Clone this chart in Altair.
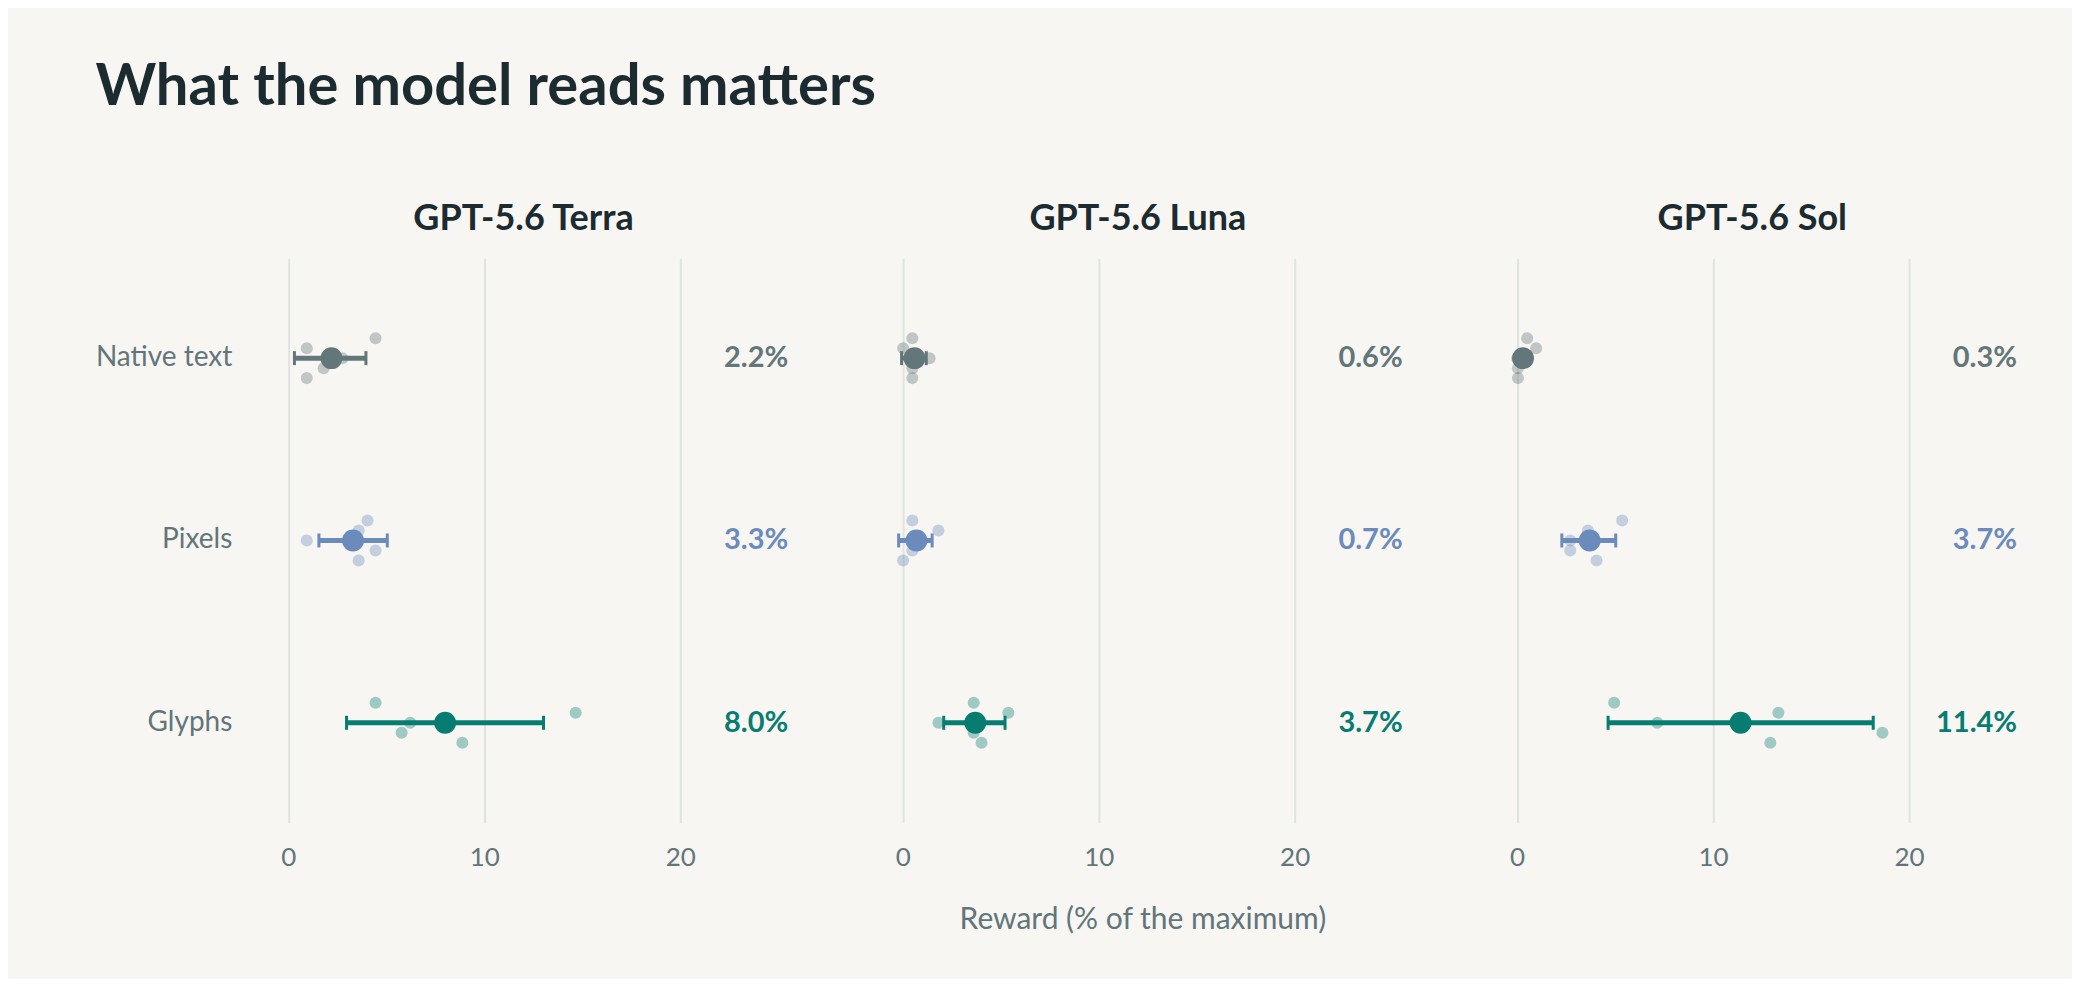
import pandas as pd
import altair as alt

models = ["GPT-5.6 Terra", "GPT-5.6 Luna", "GPT-5.6 Sol"]
inputs = ["Native text", "Pixels", "Glyphs"]
colors = ["#63767a", "#6a8bbc", "#077d72"]

# per model, per input: the five runs (top to bottom), the mean and the interval
runs = {
    "GPT-5.6 Terra": [[4.45, 0.94, 2.76, 1.8, 0.94],
                      [4.04, 3.59, 0.94, 4.45, 3.59],
                      [4.45, 14.66, 6.22, 5.78, 8.88]],
    "GPT-5.6 Luna": [[0.49, 0.02, 1.37, 0.49, 0.49],
                     [0.49, 1.82, 0.68, 0.49, 0.02],
                     [3.62, 5.39, 1.82, 3.62, 4.02]],
    "GPT-5.6 Sol": [[0.51, 0.97, 0.0, 0.04, 0.04],
                    [5.36, 3.61, 2.71, 2.71, 4.05],
                    [4.95, 13.33, 7.15, 18.64, 12.92]],
}
means = {
    "GPT-5.6 Terra": [2.2, 3.3, 8.0],
    "GPT-5.6 Luna": [0.6, 0.7, 3.7],
    "GPT-5.6 Sol": [0.3, 3.7, 11.4],
}
lows = {
    "GPT-5.6 Terra": [0.31, 1.56, 2.97],
    "GPT-5.6 Luna": [-0.06, -0.21, 2.09],
    "GPT-5.6 Sol": [0.0, 2.28, 4.64],
}
highs = {
    "GPT-5.6 Terra": [3.96, 5.05, 13.02],
    "GPT-5.6 Luna": [1.2, 1.5, 5.22],
    "GPT-5.6 Sol": [0.6, 5.03, 18.17],
}

rows = []
for m in models:
    for i, inp in enumerate(inputs):
        for r, v in enumerate(runs[m][i]):
            rows.append({"model": m, "input": inp, "kind": "run", "run": r, "value": v})
        rows.append({"model": m, "input": inp, "kind": "mean", "run": -1,
                     "value": means[m][i], "lo": lows[m][i], "hi": highs[m][i]})
df = pd.DataFrame(rows)

grey = "#62757a"
dark = "#1b2b30"

x = alt.X("value:Q", scale=alt.Scale(domain=[-1, 25], nice=False, zero=False),
          axis=alt.Axis(values=[0, 10, 20], grid=True, gridColor="#dfe4e0", gridWidth=2,
                        domain=False, ticks=False, labelFontSize=26, labelColor=grey,
                        labelPadding=22),
          title=None)
y = alt.Y("input:N", sort=inputs, scale=alt.Scale(paddingInner=0, paddingOuter=0.048),
          axis=alt.Axis(domain=False, ticks=False, grid=False, labelFontSize=28,
                        labelColor=grey, labelPadding=37), title=None)
color = alt.Color("input:N", sort=inputs, scale=alt.Scale(domain=inputs, range=colors), legend=None)

base = alt.Chart().encode(y=y, color=color)

pts = base.transform_filter(alt.datum.kind == "run").mark_circle(size=145, opacity=0.37).encode(
    x=x,
    yOffset=alt.YOffset("run:O", scale=alt.Scale(type="point", padding=0, range=[71.25, 111.25])),
)

means_f = base.transform_filter(alt.datum.kind == "mean")
bar = means_f.mark_rule(strokeWidth=5).encode(x=alt.X("lo:Q"), x2="hi:Q")
cap_lo = means_f.mark_tick(size=14, thickness=3, opacity=1).encode(x=alt.X("lo:Q"))
cap_hi = means_f.mark_tick(size=14, thickness=3, opacity=1).encode(x=alt.X("hi:Q"))
dot = means_f.mark_circle(size=480, opacity=1).encode(x=x)
label = means_f.transform_calculate(
    label="format(datum.value, '.1f') + '%'"
).mark_text(align="right", baseline="middle", fontSize=29, fontWeight="bold").encode(
    x=alt.value(520), text="label:N"
)

layer = alt.layer(pts, bar, cap_lo, cap_hi, dot, label, data=df).properties(width=510, height=565)

chart = layer.facet(
    column=alt.Column("model:N", sort=models, title="Reward (% of the maximum)",
                      header=alt.Header(labelFontSize=36, labelFontWeight="bold",
                                        labelColor=dark, labelPadding=20, labelOrient="top",
                                        titleOrient="bottom", titleFontSize=30,
                                        titleFontWeight="normal", titleColor=grey,
                                        titlePadding=24)),
    spacing=105,
    bounds="flush",
).properties(
    title=alt.TitleParams("What the model reads matters", fontSize=58, fontWeight="bold",
                          color=dark, anchor="start", frame="bounds", offset=84),
    padding={"left": 87, "top": 51, "right": 55, "bottom": 44},
).configure(
    background="#f7f6f2", font="Lato"
).configure_view(strokeWidth=0)

chart.save("out.html", embed_options={"renderer": "svg", "actions": False})
